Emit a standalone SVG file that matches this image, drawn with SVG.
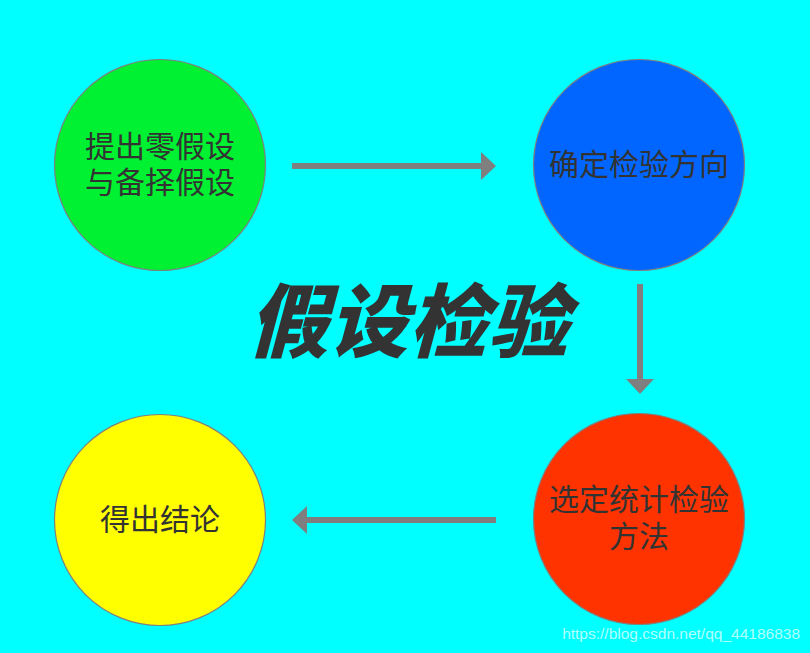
<svg xmlns="http://www.w3.org/2000/svg" width="810" height="653" viewBox="0 0 810 653">
<style>
.c{stroke:#7f7f7f;stroke-width:1.2}
.t{font-family:"Noto Sans CJK SC","Liberation Sans",sans-serif;font-size:30px;fill:#333;text-anchor:middle}
.a{stroke:#7f7f7f;stroke-width:6;fill:none}
.h{fill:#7f7f7f}
</style>
<rect width="810" height="653" fill="#00FFFF"/>
<g id="n1"><circle class="c" cx="160" cy="165" r="105.5" fill="#00F032"/><text class="t"><tspan x="160" y="157">提出零假设</tspan><tspan x="160" y="193">与备择假设</tspan></text></g>
<g id="n2"><circle class="c" cx="639" cy="165" r="105.5" fill="#0066FF"/><text class="t" x="639" y="175">确定检验方向</text></g>
<g id="n3"><circle class="c" cx="639" cy="519" r="105.5" fill="#FF3300"/><text class="t"><tspan x="639" y="510">选定统计检验</tspan><tspan x="639" y="547">方法</tspan></text></g>
<g id="n4"><circle class="c" cx="160" cy="520" r="105.5" fill="#FFFF00"/><text class="t" x="160" y="530">得出结论</text></g>
<g id="title"><text x="0" y="0" transform="translate(408 351) skewX(-15)" style="font-family:'Noto Sans CJK SC',sans-serif;font-weight:900;font-size:80px;fill:#333;text-anchor:middle">假设检验</text></g>
<g id="connectors">
<line class="a" x1="292" y1="166" x2="483" y2="166"/><polygon class="h" points="481,152 496,166 481,180"/>
<line class="a" x1="640" y1="284" x2="640" y2="381"/><polygon class="h" points="626,379 654,379 640,394"/>
<line class="a" x1="496" y1="520" x2="305" y2="520"/><polygon class="h" points="307,506 307,534 292,520"/>
</g>
<text x="800" y="639" style="font-family:'Liberation Sans',Arial,sans-serif;font-size:15.5px;fill:#ffffff;fill-opacity:0.7;text-anchor:end">https://blog.csdn.net/qq_44186838</text>
</svg>
